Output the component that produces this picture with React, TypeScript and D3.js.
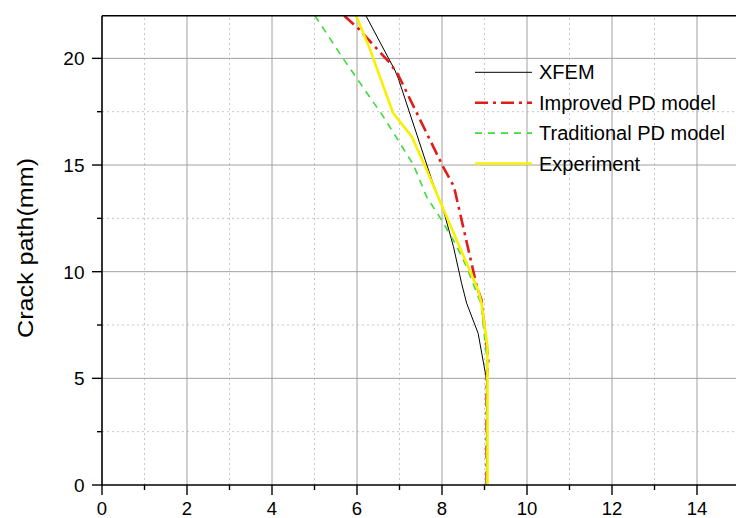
import React from "react";
import * as d3 from "d3";

const xfemX = [6.21, 6.89, 6.97, 7.76, 8.03, 8.27, 8.46, 8.58, 8.85, 9.05, 9.05];
const xfemY = [22, 19.45, 19.07, 14.3, 12.9, 11.17, 9.46, 8.52, 7.11, 4.92, 0];

const improvedX = [5.7, 6.03, 6.78, 6.97, 8.03, 8.28, 8.82, 8.93, 9.09, 9.05, 9.05];
const improvedY = [22, 21.4, 19.77, 19.22, 14.9, 14.0, 9.3, 8.67, 5.86, 5, 0];

const traditionalX = [5.01, 5.67, 6.62, 7.33, 7.64, 7.99, 8.31, 8.58, 8.82, 8.92, 9.05, 9.05];
const traditionalY = [22, 20, 17.27, 15, 13.5, 12.42, 11.33, 10.23, 8.99, 8.5, 6.0, 0];

const experimentX = [5.98, 6.31, 6.85, 7.29, 7.64, 7.94, 8.85, 8.93, 9.07, 9.07];
const experimentY = [22, 20.4, 17.43, 16.33, 14.77, 13.36, 9.14, 8.52, 6.48, 0];

const seriesNames = ["XFEM", "Improved PD model", "Traditional PD model", "Experiment"];
const xMajorTicks = [0, 2, 4, 6, 8, 10, 12, 14];
const xMinorTicks = [1, 3, 5, 7, 9, 11, 13, 15];
const yMajorTicks = [0, 5, 10, 15, 20];
const yMinorTicks = [2.5, 7.5, 12.5, 17.5];
const yLabel = "Crack path(mm)";

const styles = [
  { color: "#000000", width: 1, dash: "" },
  { color: "#e21b1b", width: 2.6, dash: "13 5 3 5" },
  { color: "#3ddc3d", width: 1.6, dash: "7 6" },
  { color: "#f8f000", width: 2.6, dash: "" },
];

const W = 736;
const H = 518;
const left = 102;
const right = 739.5;
const top = 15.7;
const bottom = 485;

export default function App() {
  const x = d3.scaleLinear().domain([0, 15]).range([left, right]);
  const y = d3.scaleLinear().domain([0, 22]).range([bottom, top]);
  const line = d3
    .line<[number, number]>()
    .x((d) => x(d[0]))
    .y((d) => y(d[1]));
  const series = [
    [xfemX, xfemY],
    [improvedX, improvedY],
    [traditionalX, traditionalY],
    [experimentX, experimentY],
  ].map(([xs, ys]) => xs.map((v, i) => [v, ys[i]] as [number, number]));

  const font = "'Liberation Sans', Arial, sans-serif";

  return (
    <svg
      width={W}
      height={H}
      style={{ position: "absolute", left: 0, top: 0, background: "#fff" }}
      fontFamily={font}
    >
      <defs>
        <clipPath id="plot">
          <rect x={left} y={y(22)} width={W - left} height={bottom - y(22)} />
        </clipPath>
      </defs>
      <rect x={0} y={0} width={W} height={H} fill="#fff" />
      {xMinorTicks.map((t) => (
        <line key={"xm" + t} x1={x(t)} x2={x(t)} y1={bottom} y2={y(22)} stroke="#c8c8c8" strokeWidth={1} strokeDasharray="2 3" />
      ))}
      {yMinorTicks.map((t) => (
        <line key={"ym" + t} x1={left} x2={W} y1={y(t)} y2={y(t)} stroke="#c8c8c8" strokeWidth={1} strokeDasharray="2 3" />
      ))}
      {xMajorTicks.filter((t) => t > 0).map((t) => (
        <line key={"xg" + t} x1={x(t)} x2={x(t)} y1={bottom} y2={y(22)} stroke="#a0a0a0" strokeWidth={1} />
      ))}
      {yMajorTicks.filter((t) => t > 0).map((t) => (
        <line key={"yg" + t} x1={left} x2={W} y1={y(t)} y2={y(t)} stroke="#a0a0a0" strokeWidth={1} />
      ))}
      <g clipPath="url(#plot)">
        {series.map((s, i) => (
          <path
            key={"s" + i}
            d={line(s) || ""}
            fill="none"
            stroke={styles[i].color}
            strokeWidth={styles[i].width}
            strokeDasharray={styles[i].dash || undefined}
            strokeLinejoin="round"
          />
        ))}
      </g>
      <line x1={left} x2={left} y1={bottom} y2={y(22)} stroke="#000" strokeWidth={1.6} />
      <line x1={left} x2={W} y1={bottom} y2={bottom} stroke="#000" strokeWidth={1.6} />
      <line x1={left} x2={W} y1={y(22)} y2={y(22)} stroke="#000" strokeWidth={1.6} />
      {xMajorTicks.map((t) => (
        <g key={"xt" + t}>
          <line x1={x(t)} x2={x(t)} y1={bottom} y2={bottom + 10} stroke="#000" strokeWidth={1.4} />
          <text x={x(t)} y={514.5} textAnchor="middle" fontSize={18.5} fill="#000">
            {t}
          </text>
        </g>
      ))}
      {xMinorTicks.map((t) => (
        <line key={"xmt" + t} x1={x(t)} x2={x(t)} y1={bottom} y2={bottom + 5} stroke="#000" strokeWidth={1.4} />
      ))}
      {yMajorTicks.map((t) => (
        <g key={"yt" + t}>
          <line x1={left - 10} x2={left} y1={y(t)} y2={y(t)} stroke="#000" strokeWidth={1.4} />
          <text x={84.5} y={y(t)} dy="0.36em" textAnchor="end" fontSize={19} fill="#000">
            {t}
          </text>
        </g>
      ))}
      {yMinorTicks.map((t) => (
        <line key={"ymt" + t} x1={left - 5} x2={left} y1={y(t)} y2={y(t)} stroke="#000" strokeWidth={1.4} />
      ))}
      <text
        transform="translate(33,248) rotate(-90)"
        textAnchor="middle"
        fontSize={22}
        textLength={180}
        lengthAdjust="spacingAndGlyphs"
        fill="#000"
      >
        {yLabel}
      </text>
      {seriesNames.map((n, i) => {
        const cy = 72.3 + i * 30.4;
        return (
          <g key={"lg" + i}>
            <line
              x1={475}
              x2={532}
              y1={cy}
              y2={cy}
              stroke={styles[i].color}
              strokeWidth={styles[i].width}
              strokeDasharray={styles[i].dash || undefined}
            />
            <text x={539} y={cy + 7} fontSize={20} fill="#000">
              {n}
            </text>
          </g>
        );
      })}
    </svg>
  );
}
